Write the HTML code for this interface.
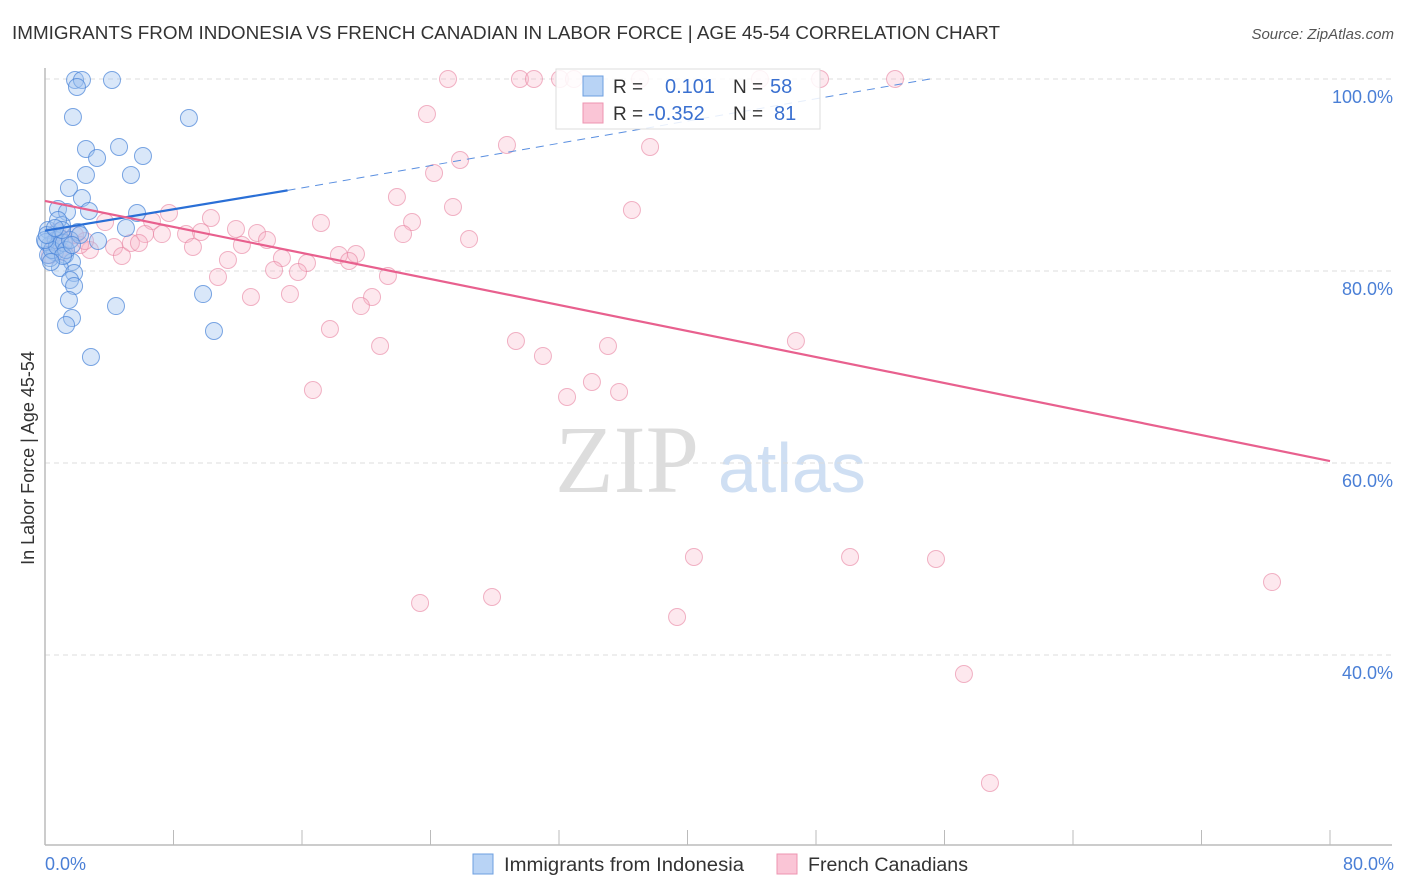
<!DOCTYPE html>
<html><head><meta charset="utf-8"><style>
body{margin:0;background:#fff;font-family:"Liberation Sans",sans-serif;}
svg{display:block}
</style></head><body>
<svg id="chart" width="1406" height="892">
<text x="12" y="39" font-size="18" fill="#333" textLength="988" lengthAdjust="spacingAndGlyphs">IMMIGRANTS FROM INDONESIA VS FRENCH CANADIAN IN LABOR FORCE | AGE 45-54 CORRELATION CHART</text>
<text x="1394" y="39" font-size="15" fill="#555" font-style="italic" text-anchor="end">Source: ZipAtlas.com</text>
<text x="34" y="458" font-size="18" fill="#333" text-anchor="middle" transform="rotate(-90 34 458)">In Labor Force | Age 45-54</text>
<text x="555" y="492" font-size="96" fill="#ddd" font-family="Liberation Serif,serif">ZIP</text>
<text x="718" y="492" font-size="70" fill="#cfdff3">atlas</text>
<g id="grid"></g><g id="pts"></g><g id="trend"></g>
<g>
<rect x="556" y="69" width="264" height="60" fill="rgba(255,255,255,0.85)" stroke="#ddd"/>
<rect x="583" y="76" width="20" height="20" fill="#b8d3f5" stroke="#6d9fe0"/>
<rect x="583" y="103" width="20" height="20" fill="#fac5d6" stroke="#ee94b0"/>
<text x="613" y="93" font-size="19" fill="#333">R =</text>
<text x="665" y="93" font-size="20" fill="#3a70d0">0.101</text>
<text x="733" y="93" font-size="19" fill="#333">N =</text>
<text x="770" y="93" font-size="20" fill="#3a70d0">58</text>
<text x="613" y="120" font-size="19" fill="#333">R =</text>
<text x="648" y="120" font-size="20" fill="#3a70d0">-0.352</text>
<text x="733" y="120" font-size="19" fill="#333">N =</text>
<text x="774" y="120" font-size="20" fill="#3a70d0">81</text>
</g>
<g>
<rect x="473" y="854" width="20" height="20" fill="#b8d3f5" stroke="#6d9fe0"/>
<text x="504" y="871" font-size="19" fill="#333" textLength="240" lengthAdjust="spacingAndGlyphs">Immigrants from Indonesia</text>
<rect x="777" y="854" width="20" height="20" fill="#fac5d6" stroke="#ee94b0"/>
<text x="808" y="871" font-size="19" fill="#333" textLength="160" lengthAdjust="spacingAndGlyphs">French Canadians</text>
</g>
<text x="45" y="870" font-size="18" fill="#4a7fd6">0.0%</text>
<text x="1394" y="870" font-size="18" fill="#4a7fd6" text-anchor="end">80.0%</text>
</svg>
<script>
const yTicks=[100,80,60,40];
const xTickCount=10;
const bluePx=[[75,80],[82,80],[112,80],[77,87],[73,117],[189,118],[86,149],[119,147],[97,158],[143,156],[131,175],[86,175],[69,188],[82,198],[58,209],[67,212],[89,211],[137,213],[126,228],[98,241],[62,225],[78,232],[53,235],[48,230],[50,245],[55,252],[65,255],[72,262],[60,268],[74,273],[70,280],[74,286],[69,300],[116,306],[72,318],[66,325],[203,294],[214,331],[91,357],[50,258],[56,240],[46,242],[60,238],[48,255],[52,250],[57,246],[64,243],[45,240],[66,250],[70,240],[80,235],[58,220],[62,230],[47,235],[55,228],[63,256],[51,262],[72,245]];
const pinkPx=[[448,79],[520,79],[534,79],[560,79],[574,79],[640,79],[760,79],[820,79],[895,79],[427,114],[507,145],[650,147],[460,160],[434,173],[397,197],[453,207],[632,210],[412,222],[321,223],[169,213],[211,218],[236,229],[105,222],[152,221],[186,234],[162,234],[145,234],[257,233],[267,240],[201,232],[469,239],[403,234],[356,254],[339,255],[349,261],[242,245],[193,247],[114,247],[90,250],[122,256],[131,243],[139,243],[228,260],[282,258],[307,263],[274,270],[298,272],[218,277],[388,276],[372,297],[361,306],[251,297],[290,294],[330,329],[380,346],[516,341],[543,356],[608,346],[796,341],[313,390],[567,397],[592,382],[619,392],[694,557],[850,557],[936,559],[420,603],[492,597],[677,617],[1272,582],[964,674],[990,783],[55,243],[60,249],[66,240],[80,245],[50,255],[75,235],[63,252],[85,241],[57,232]];
const blueX=bluePx.map(p=>+((p[0]-45)/16.0625).toFixed(2));
const blueY=bluePx.map(p=>+(100-(p[1]-79)/9.6).toFixed(2));
const pinkX=pinkPx.map(p=>+((p[0]-45)/16.0625).toFixed(2));
const pinkY=pinkPx.map(p=>+(100-(p[1]-79)/9.6).toFixed(2));
const blueTrend=[[0,84.2],[15.1,88.4],[55.1,100]];
const pinkTrend=[[0,87.3],[80,60.2]];
function sx(v){return 45+v*16.0625;}
function sy(v){return 79+(100-v)*9.6;}
const NS="http://www.w3.org/2000/svg";
function mk(t,a,parent){const e=document.createElementNS(NS,t);for(const k in a)e.setAttribute(k,a[k]);parent.appendChild(e);return e;}
const grid=document.getElementById('grid');
yTicks.forEach(t=>{
 const l=mk('line',{x1:45,x2:1392,y1:sy(t),y2:sy(t),stroke:'#ddd','stroke-dasharray':'5,4'},grid);
 
 
 const tx=mk('text',{x:1393,y:sy(t)+24,'font-size':18,fill:'#4a7fd6','text-anchor':'end'},grid);
 tx.textContent=t.toFixed(1)+'%';
 
 
});
const ax=mk('line',{x1:45,x2:1392,y1:845,y2:845,stroke:'#bbb','stroke-width':1.5},grid);


const ay=mk('line',{x1:45,x2:45,y1:68,y2:845,stroke:'#bbb','stroke-width':1.5},grid);


for(let i=1;i<=xTickCount;i++){
 const x=sx(i*8);
 const t=mk('line',{x1:x,x2:x,y1:830,y2:845,stroke:'#bbb'},grid);
 
 
}
const pts=document.getElementById('pts');
pinkX.forEach((x,i)=>{
 const c=mk('circle',{cx:sx(x),cy:sy(pinkY[i]),r:8.5,fill:'rgba(248,178,200,0.3)',stroke:'rgba(232,130,160,0.6)','stroke-width':1},pts);
 
 
});
blueX.forEach((x,i)=>{
 const c=mk('circle',{cx:sx(x),cy:sy(blueY[i]),r:8.5,fill:'rgba(160,195,240,0.4)',stroke:'rgba(70,130,215,0.7)','stroke-width':1},pts);
 
 
});
const tr=document.getElementById('trend');
const b1=mk('line',{x1:sx(blueTrend[0][0]),y1:sy(blueTrend[0][1]),x2:sx(blueTrend[1][0]),y2:sy(blueTrend[1][1]),stroke:'#2a6fd6','stroke-width':2.2},tr);


const b2=mk('line',{x1:sx(blueTrend[1][0]),y1:sy(blueTrend[1][1]),x2:sx(blueTrend[2][0]),y2:sy(blueTrend[2][1]),stroke:'#5a8fe0','stroke-width':1,'stroke-dasharray':'8,6'},tr);


const p1=mk('line',{x1:sx(pinkTrend[0][0]),y1:sy(pinkTrend[0][1]),x2:sx(pinkTrend[1][0]),y2:sy(pinkTrend[1][1]),stroke:'#e8608e','stroke-width':2.2},tr);


</script>
</body></html>
